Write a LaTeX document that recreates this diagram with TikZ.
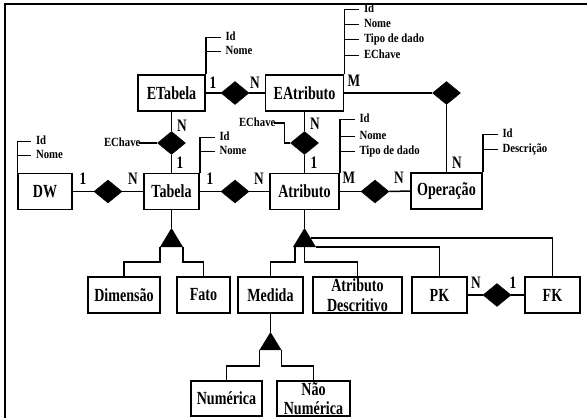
\documentclass[tikz,border=0pt]{standalone}
\usepackage{fontspec}
\setmainfont{Liberation Serif}
\newfontfamily\bigf[FakeStretch=0.76]{Liberation Serif}
\newfontfamily\smf[FakeStretch=0.86]{Liberation Serif}
\usetikzlibrary{shapes.geometric,calc}
\begin{document}
\begin{tikzpicture}[x=1pt,y=-1pt, line width=1.5pt,
 ent/.style={draw, fill=white, minimum height=36pt, inner sep=0pt, align=center,
   font=\bigf\bfseries\fontsize{18.5}{19.5}\selectfont},
 rel/.style={diamond, fill=black, draw=black, line width=0.5pt, minimum width=28pt, minimum height=23pt, inner sep=0pt},
 card/.style={font=\bigf\bfseries\fontsize{17.5}{18}\selectfont, inner sep=0pt},
 attr/.style={font=\smf\bfseries\fontsize{12.5}{13}\selectfont, anchor=west, inner sep=0pt, text height=8.5pt, text depth=2.5pt, xshift=4pt},
 attrl/.style={attr, anchor=east, xshift=-6pt},
]
\useasboundingbox (0,0) rectangle (587,418);
\draw[line width=2pt] (587,4) -- (5,4) -- (5,418);

% entities
\node[ent, minimum width=67pt] (etab) at (171.5,93) {ETabela};
\node[ent, minimum width=78pt] (eatr) at (304.5,93) {EAtributo};
\node[ent, minimum width=54pt] (dw) at (45,191.5) {DW};
\node[ent, minimum width=55pt] (tab) at (171.5,191.5) {Tabela};
\node[ent, minimum width=69pt] (atr) at (304.5,191.5) {Atributo};
\node[ent, minimum width=71pt] (op) at (446.5,191) {Operação};
\node[ent, minimum width=72pt] (dim) at (124,295) {Dimensão};
\node[ent, minimum width=53pt] (fato) at (203.5,295) {Fato};
\node[ent, minimum width=65pt] (med) at (270.5,295) {Medida};
\node[ent, minimum width=89pt] (ades) at (357.5,295) {Atributo\\Descritivo};
\node[ent, minimum width=55pt] (pk) at (439.5,295) {PK};
\node[ent, minimum width=55pt] (fk) at (552.5,295) {FK};
\node[ent, minimum width=71pt, minimum height=35pt] (num) at (226.5,398.5) {Numérica};
\node[ent, minimum width=73pt, minimum height=35pt] (nnum) at (313.5,398.5) {Não\\Numérica};

% relationships
\node[rel] (r1) at (235,93) {};
\node[rel] (r2) at (171.5,143) {};
\node[rel] (r3) at (304.5,143) {};
\node[rel] (r4) at (446.5,93) {};
\node[rel] (r5) at (108,191.5) {};
\node[rel] (r6) at (235,191.5) {};
\node[rel] (r7) at (375,191.5) {};
\node[rel] (r8) at (497,295) {};

\draw (etab.east) -- (r1.west);
\draw (r1.east) -- (eatr.west);
\draw (etab.south) -- (r2.north);
\draw (r2.south) -- (tab.north);
\draw (eatr.south) -- (r3.north);
\draw (r3.south) -- (atr.north);
\draw (eatr.east) -- (r4.west);
\draw (r4.south) -- (op.north);
\draw (dw.east) -- (r5.west);
\draw (r5.east) -- (tab.west);
\draw (tab.east) -- (r6.west);
\draw (r6.east) -- (atr.west);
\draw (atr.east) -- (r7.west);
\draw (r7.east) -- (op.west);
\draw (pk.east) -- (r8.west);
\draw (r8.east) -- (fk.west);

% EChave attributes of relationships
\draw (r2.west) -- ++(-18,0) node[attrl, xshift=4pt] {EChave};
\draw (r3.west) -- ++(-6,0) -- ++(0,-20) -- ++(-10,0) node[attrl, xshift=4pt] {EChave};

% generalisation Tabela
\coordinate (t1a) at (171.5,228);
\coordinate (t1l) at (160,247);
\coordinate (t1r) at (183,247);
\fill (t1a) -- (t1l) -- (t1r) -- cycle;
\draw (tab.south) -- (t1a);
\draw (t1l) -- ++(0,15) -| (dim.north);
\draw (t1r) -- ++(0,15) -| (fato.north);

% generalisation Atributo
\coordinate (t2a) at (304.5,228);
\coordinate (t2l) at (293,247);
\coordinate (t2r) at (316,247);
\fill (t2a) -- (t2l) -- (t2r) -- cycle;
\draw (atr.south) -- (t2a);
\draw ($(t2l)+(2,0)$) -- ++(0,15) -| (med.north);
\draw (t2a |- t2l) -- ++(0,15) -| (ades.north);
\draw (t2r) -| (pk.north);
\draw ($(t2a)!0.53!(t2r)$) -| (fk.north);

% generalisation Medida
\coordinate (t3a) at (270.5,332);
\coordinate (t3l) at (259.5,350);
\coordinate (t3r) at (281.5,350);
\fill (t3a) -- (t3l) -- (t3r) -- cycle;
\draw (med.south) -- (t3a);
\draw (t3l) -- ++(0,16) -| (num.north);
\draw (t3r) -- ++(0,16) -| (nnum.north);

% attribute lists
\draw (etab.north east) -- ++(0,-37) -- ++(15,0) node[attr] {Id};
\draw ($(etab.north east)+(0,-23)$) -- ++(15,0) node[attr] {Nome};

\draw (eatr.north east) -- ++(0,-65) -- ++(15,0) node[attr] {Id};
\draw ($(eatr.north east)+(0,-50)$) -- ++(15,0) node[attr] {Nome};
\draw ($(eatr.north east)+(0,-35)$) -- ++(15,0) node[attr] {Tipo de dado};
\draw ($(eatr.north east)+(0,-19)$) -- ++(15,0) node[attr] {EChave};

\draw (dw.north west) -- ++(0,-31.5) -- ++(14,0) node[attr] {Id};
\draw ($(dw.north west)+(0,-17.5)$) -- ++(14,0) node[attr] {Nome};

\draw (tab.north east) -- ++(0,-35.5) -- ++(15,0) node[attr] {Id};
\draw ($(tab.north east)+(0,-21.5)$) -- ++(15,0) node[attr] {Nome};

\draw (atr.north east) -- ++(0,-53.5) -- ++(15,0) node[attr] {Id};
\draw ($(atr.north east)+(0,-36.5)$) -- ++(15,0) node[attr] {Nome};
\draw ($(atr.north east)+(0,-21.5)$) -- ++(15,0) node[attr] {Tipo de dado};

\draw (op.north east) -- ++(0,-38) -- ++(15,0) node[attr] {Id};
\draw ($(op.north east)+(0,-23)$) -- ++(15,0) node[attr] {Descrição};

% cardinalities
\node[card] (c1) at (213,83) {1};
\node[card] (c2) at (255,83) {N};
\node[card] (c3) at (182,126) {N};
\node[card] (c4) at (180,163) {1};
\node[card] (c5) at (354,81) {M};
\node[card] (c6) at (315,124) {N};
\node[card] (c7) at (314,163) {1};
\node[card] (c8) at (83,179) {1};
\node[card] (c9) at (133,179) {N};
\node[card] (c10) at (210,179) {1};
\node[card] (c11) at (259,179) {N};
\node[card] (c12) at (349,178) {M};
\node[card] (c13) at (399,178) {N};
\node[card] (c14) at (457,163) {N};
\node[card] (c15) at (476,283) {N};
\node[card] (c16) at (513,283) {1};
\end{tikzpicture}
\end{document}
